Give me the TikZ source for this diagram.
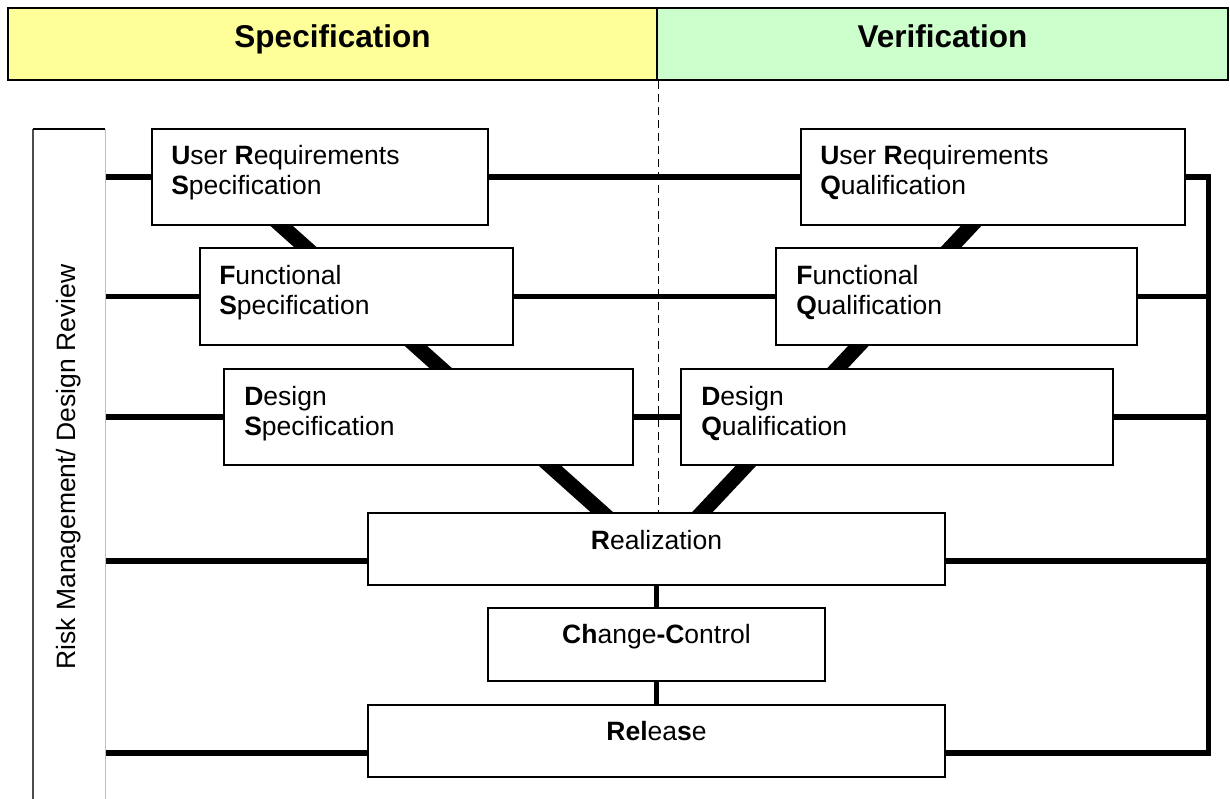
\documentclass[tikz,border=0pt]{standalone}
\usepackage{fontspec}
\setmainfont{Liberation Sans}
\usetikzlibrary{backgrounds}
\definecolor{specyellow}{RGB}{255,255,153}
\definecolor{verigreen}{RGB}{204,255,204}

\begin{document}
\begin{tikzpicture}[x=1pt,y=-1pt,
    head/.style={draw, line width=2.5pt, inner sep=0pt, minimum height=72pt,
      text height=20pt, text depth=12pt, font=\fontsize{31.5}{34}\selectfont\bfseries},
    box/.style={draw, line width=1.8pt, fill=white, inner sep=0pt},
    lbl/.style={inner sep=0pt, align=left, font=\fontsize{26.5}{30}\selectfont},
    hline/.style={line width=5.5pt},
    diag/.style={line width=15pt},
  ]
  \useasboundingbox (0,0) rectangle (1230,799);

  \node[head, fill=specyellow, minimum width=649pt] (spec) at (332.5,44) {Specification};
  \node[head, fill=verigreen, minimum width=571pt] (veri) at (942.5,44) {Verification};

  \node[rotate=90, minimum width=676pt, minimum height=72pt, inner sep=0pt,
    font=\fontsize{26.5}{30}\selectfont] (risk) at (69,467) {Risk Management/ Design Review};
  \draw[black!70, line width=1.6pt] (risk.north west) -- (risk.north east);
  \draw[line width=1.8pt] (risk.north east) -- (risk.south east);
  \draw[black!25, line width=1pt] (risk.south east) -- (risk.south west);

  \node[box, minimum width=336pt, minimum height=96pt] (urs) at (320,177) {};
  \node[box, minimum width=313pt, minimum height=97pt] (fs) at (356.5,296.5) {};
  \node[box, minimum width=409pt, minimum height=96pt] (ds) at (428.5,417) {};
  \node[box, minimum width=384pt, minimum height=96pt] (urq) at (993,177) {};
  \node[box, minimum width=361pt, minimum height=97pt] (fq) at (956.5,296.5) {};
  \node[box, minimum width=432pt, minimum height=96pt] (dq) at (897,417) {};
  \node[box, minimum width=577pt, minimum height=72pt] (real) at (656.5,549) {};
  \node[box, minimum width=337pt, minimum height=73pt] (cc) at (656.5,644.5) {};
  \node[box, minimum width=577pt, minimum height=72pt] (rel) at (656.5,741) {};

  \node[lbl, anchor=north west] (urs-t) at ([shift={(20,17)}]urs.north west)
    {\textbf{U}ser \textbf{R}equirements\\\textbf{S}pecification};
  \node[lbl, anchor=north west] (fs-t) at ([shift={(20,18)}]fs.north west)
    {\textbf{F}unctional\\\textbf{S}pecification};
  \node[lbl, anchor=north west] (ds-t) at ([shift={(21,18)}]ds.north west)
    {\textbf{D}esign\\\textbf{S}pecification};
  \node[lbl, anchor=north west] (urq-t) at ([shift={(20,17)}]urq.north west)
    {\textbf{U}ser \textbf{R}equirements\\\textbf{Q}ualification};
  \node[lbl, anchor=north west] (fq-t) at ([shift={(21,18)}]fq.north west)
    {\textbf{F}unctional\\\textbf{Q}ualification};
  \node[lbl, anchor=north west] (dq-t) at ([shift={(21,18)}]dq.north west)
    {\textbf{D}esign\\\textbf{Q}ualification};
  \node[lbl, anchor=north] (real-t) at ([yshift=-18]real.north) {\textbf{R}ealization};
  \node[lbl, anchor=north] (cc-t) at ([yshift=-17]cc.north) {\textbf{Ch}ange\textbf{-C}ontrol};
  \node[lbl, anchor=north] (rel-t) at ([yshift=-17]rel.north) {\textbf{Rel}ea\textbf{s}e};

  \coordinate (rl) at (105,0);
  \coordinate (rb) at (1208.5,0);
  \coordinate (vtip) at ([yshift=-12]real.center);
  \coordinate (dl) at (228,178);
  \coordinate (dr) at (1016,178);

  \begin{pgfonlayer}{background}
    \draw[dashed, line width=1pt, dash pattern=on 8pt off 5pt]
      (spec.south east) -- (spec.south east |- real.north);
    \draw[diag] (vtip) -- (dl);
    \draw[diag] (vtip) -- (dr);
    \draw[hline] (urs.west -| rl) -- (urs.west);
    \draw[hline] (fs.west -| rl) -- (fs.west);
    \draw[hline] (ds.west -| rl) -- (ds.west);
    \draw[hline] ([yshift=-12]real.west -| rl) -- ([yshift=-12]real.west);
    \draw[hline] ([yshift=-12]rel.west -| rl) -- ([yshift=-12]rel.west);
    \draw[hline] (urs.east) -- (urq.west);
    \draw[hline] (fs.east) -- (fq.west);
    \draw[hline] (ds.east) -- (dq.west);
    \draw[hline] (real.south) -- (cc.north);
    \draw[hline] (cc.south) -- (rel.north);
    \draw[hline] (urq.east) -| ([yshift=-12]rel.east -| rb) -- ([yshift=-12]rel.east);
    \draw[hline] (fq.east) -- (fq.east -| rb);
    \draw[hline] (dq.east) -- (dq.east -| rb);
    \draw[hline] ([yshift=-12]real.east) -- ([yshift=-12]real.east -| rb);
  \end{pgfonlayer}
\end{tikzpicture}
\end{document}
